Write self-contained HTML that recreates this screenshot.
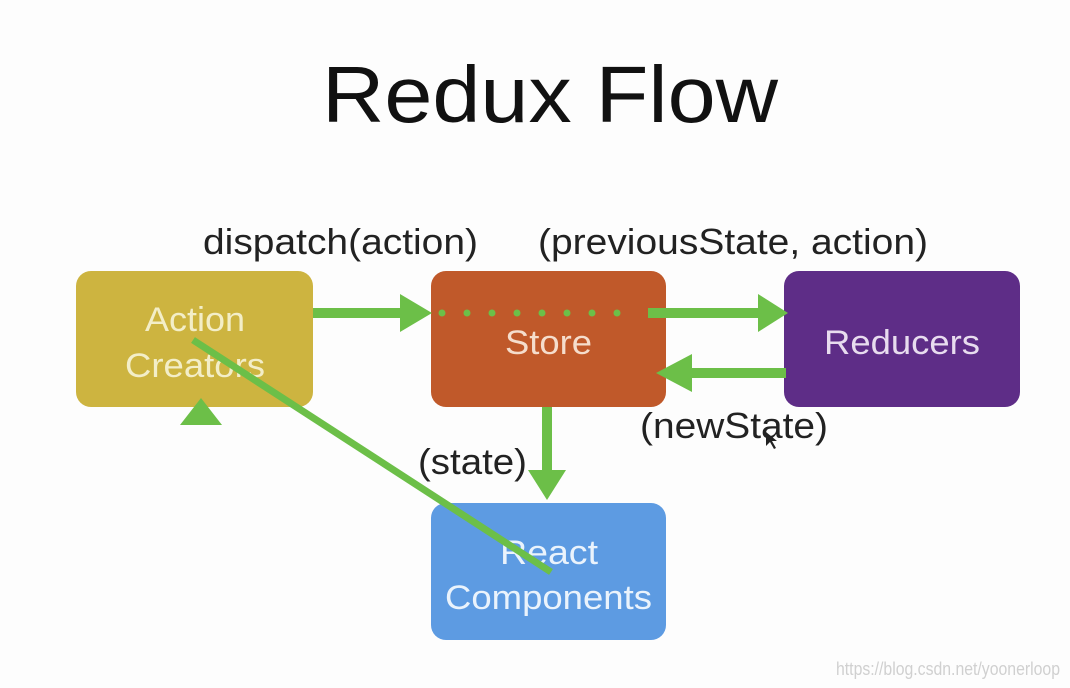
<!DOCTYPE html>
<html><head><meta charset="utf-8"><style>
html,body{margin:0;padding:0;background:#fdfdfd;}
svg{display:block;}
text{font-family:"Liberation Sans",Arial,sans-serif;}
</style></head><body>
<svg width="1070" height="688" viewBox="0 0 1070 688" xmlns="http://www.w3.org/2000/svg">
<rect width="1070" height="688" fill="#fdfdfd"/>
<text x="322" y="122" font-size="80" fill="#111" textLength="456" lengthAdjust="spacingAndGlyphs">Redux Flow</text>
<text x="203" y="254" font-size="36" fill="#222" textLength="275" lengthAdjust="spacingAndGlyphs">dispatch(action)</text>
<text x="538" y="254" font-size="36" fill="#222" textLength="390" lengthAdjust="spacingAndGlyphs">(previousState, action)</text>
<text x="640" y="438" font-size="36" fill="#222" textLength="188" lengthAdjust="spacingAndGlyphs">(newState)</text>
<text x="418" y="474" font-size="36" fill="#222" textLength="109" lengthAdjust="spacingAndGlyphs">(state)</text>

<rect x="76" y="271" width="237" height="136" rx="15" fill="#cdb440"/>
<rect x="431" y="271" width="235" height="136" rx="15" fill="#c0592a"/>
<rect x="784" y="271" width="236" height="136" rx="15" fill="#5e2d87"/>
<rect x="431" y="503" width="235" height="137" rx="15" fill="#5d9be2"/>

<g fill="#f3eec8" font-size="34">
<text x="145" y="331" textLength="100" lengthAdjust="spacingAndGlyphs">Action</text>
<text x="125" y="377" textLength="140" lengthAdjust="spacingAndGlyphs">Creators</text>
</g>
<text x="505" y="354" font-size="34" fill="#f5ddcc" textLength="87" lengthAdjust="spacingAndGlyphs">Store</text>
<text x="824" y="354" font-size="34" fill="#e8dcef" textLength="156" lengthAdjust="spacingAndGlyphs">Reducers</text>
<text x="500" y="564" font-size="34" fill="#eaf3fc" textLength="98" lengthAdjust="spacingAndGlyphs">React</text>
<text x="445" y="609" font-size="34" fill="#eaf3fc" textLength="207" lengthAdjust="spacingAndGlyphs">Components</text>

<g fill="#6cbf48" stroke="none">
<rect x="313" y="308" width="90" height="10"/>
<polygon points="400,294 432,313 400,332"/>
<rect x="648" y="308" width="115" height="10"/>
<polygon points="758,294 788,313 758,332"/>
<rect x="690" y="368" width="96" height="10"/>
<polygon points="692,354 656,373 692,392"/>
<rect x="542" y="407" width="10" height="66"/>
<polygon points="528,470 566,470 547,500"/>
<polygon points="180,425 222,425 201,398"/>
</g>
<g fill="#6cbf48">
<circle cx="442" cy="313" r="3.5"/><circle cx="467" cy="313" r="3.5"/><circle cx="492" cy="313" r="3.5"/><circle cx="517" cy="313" r="3.5"/><circle cx="542" cy="313" r="3.5"/><circle cx="567" cy="313" r="3.5"/><circle cx="592" cy="313" r="3.5"/><circle cx="617" cy="313" r="3.5"/>
</g>
<line x1="193" y1="340" x2="551" y2="572" stroke="#6cbf48" stroke-width="7"/>
<path d="M766,432 l0,14 l4,-4 l4,7 l2,-1 l-4,-7 l5,0 z" fill="#222"/>
<text x="836" y="675" font-size="18" fill="#d0d0d0" textLength="224" lengthAdjust="spacingAndGlyphs">https://blog.csdn.net/yoonerloop</text>
</svg>
</body></html>
